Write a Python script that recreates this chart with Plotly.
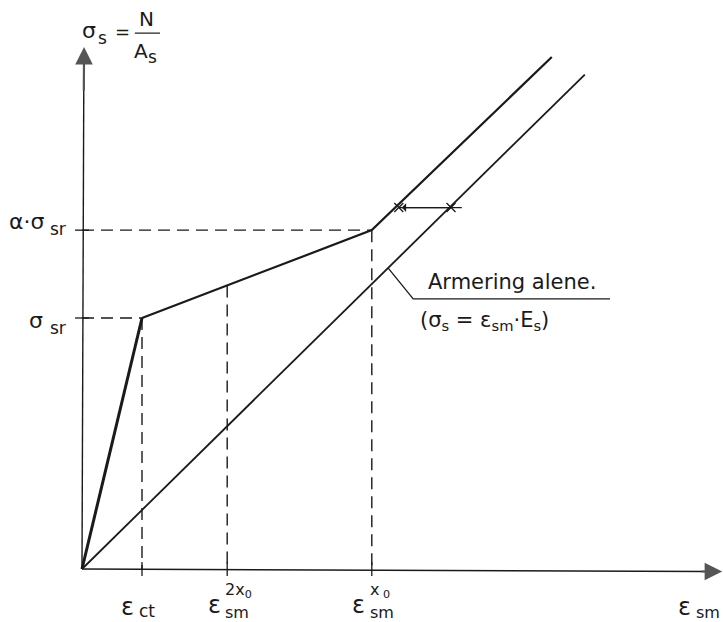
import plotly.graph_objects as go

# ---- data (strain in units of eps_ct, stress in units of sigma_sr) ----
eps_ct = 1.0
eps_2x0 = 2.42
eps_x0 = 4.83
sig_sr = 1.0
alpha_sig_sr = 1.35

# composite curve (tension stiffening) : origin -> eps_ct -> eps_x0 -> end
comp_x = [0.0, eps_ct, eps_x0, 7.83]
comp_y = [0.0, sig_sr, alpha_sig_sr, 2.04]
# bare reinforcement line
bare_x = [0.0, 8.38]
bare_y = [0.0, 1.97]
# crosses on the two lines
cross_x = [5.28, 6.15]
cross_y = [1.44, 1.44]
# leader line for the label
lead_x = [5.10, 5.52, 8.80]
lead_y = [1.20, 1.076, 1.076]

ink = "#1a1a1a"
FONT = "DejaVu Sans"

fig = go.Figure()

# steep first segment is drawn heavier
fig.add_trace(go.Scatter(x=comp_x[:2], y=comp_y[:2], mode="lines",
                         line=dict(color=ink, width=3)))
fig.add_trace(go.Scatter(x=comp_x[1:], y=comp_y[1:], mode="lines",
                         line=dict(color=ink, width=2.2)))
fig.add_trace(go.Scatter(x=bare_x, y=bare_y, mode="lines",
                         line=dict(color=ink, width=1.8)))

# dashed guide lines
dash = "12px,7px"
interp = comp_y[1] + (comp_y[2] - comp_y[1]) * (eps_2x0 - comp_x[1]) / (comp_x[2] - comp_x[1])
guides = [
    ([0, eps_ct], [sig_sr, sig_sr]),
    ([eps_ct, eps_ct], [sig_sr, 0]),
    ([0, eps_x0], [alpha_sig_sr, alpha_sig_sr]),
    ([eps_x0, eps_x0], [alpha_sig_sr, 0]),
    ([eps_2x0, eps_2x0], [interp, 0]),
]
for gx, gy in guides:
    fig.add_trace(go.Scatter(x=gx, y=gy, mode="lines",
                             line=dict(color=ink, width=1.4, dash=dash)))

# axes
fig.add_trace(go.Scatter(x=[0, 0.03], y=[0, 1.95], mode="lines",
                         line=dict(color=ink, width=1.4)))
fig.add_trace(go.Scatter(x=[0, 10.4], y=[0, -0.01], mode="lines",
                         line=dict(color=ink, width=1.4)))

# crosses and dimension line
fig.add_trace(go.Scatter(x=[cross_x[0], cross_x[1] + 0.18], y=cross_y, mode="lines",
                         line=dict(color=ink, width=1.3)))
fig.add_trace(go.Scatter(x=cross_x, y=cross_y, mode="markers",
                         marker=dict(symbol="x-thin", size=9,
                                     line=dict(color=ink, width=1.3))))
# leader
fig.add_trace(go.Scatter(x=lead_x, y=lead_y, mode="lines",
                         line=dict(color=ink, width=1.3)))

# tick marks on axes at guide positions
fig.add_trace(go.Scatter(x=[eps_ct, eps_2x0, eps_x0], y=[0, 0, 0], mode="markers",
                         marker=dict(symbol="line-ns", size=10,
                                     line=dict(color=ink, width=1.3))))
fig.add_trace(go.Scatter(x=[0, 0], y=[sig_sr, alpha_sig_sr], mode="markers",
                         marker=dict(symbol="line-ew", size=10,
                                     line=dict(color=ink, width=1.3))))

ann = []
# arrowheads of axes
ann.append(dict(x=0.035, y=2.08, ax=0.03, ay=1.9, xref="x", yref="y", axref="x", ayref="y",
                showarrow=True, arrowhead=2, arrowsize=1.6, arrowwidth=2.2,
                arrowcolor="#555", text=""))
ann.append(dict(x=10.67, y=-0.01, ax=10.3, ay=-0.01, xref="x", yref="y", axref="x", ayref="y",
                showarrow=True, arrowhead=2, arrowsize=1.6, arrowwidth=2.2,
                arrowcolor="#555", text=""))
# small arrow between crosses
ann.append(dict(x=cross_x[0] + 0.05, y=cross_y[0], ax=cross_x[1], ay=cross_y[1],
                xref="x", yref="y", axref="x", ayref="y",
                showarrow=True, arrowhead=1, arrowsize=1.2, arrowwidth=1.2,
                arrowcolor=ink, text=""))

def txt(x, y, t, size=22, xa="center", ya="middle"):
    ann.append(dict(x=x, y=y, xref="x", yref="y", text=t, showarrow=False,
                    xanchor=xa, yanchor=ya,
                    font=dict(family=FONT, size=size, color=ink)))

# y-axis title  sigma_s = N / A_s
txt(-0.03, 2.145, "σ", 22, xa="left")
txt(0.24, 2.115, "s", 17, xa="left")
txt(0.52, 2.14, "=", 18, xa="left")
txt(1.07, 2.19, "N", 20)
txt(0.98, 2.065, "A", 20)
txt(1.18, 2.04, "s", 17)
fig.add_shape(type="line", x0=0.88, x1=1.30, y0=2.135, y1=2.135, xref="x", yref="y",
              line=dict(color=ink, width=1.2))

# y labels
txt(-1.25, 1.385, "α·σ", 22, xa="left")
txt(-0.57, 1.355, "sr", 17, xa="left")
txt(-0.92, 0.99, "σ", 22, xa="left")
txt(-0.57, 0.962, "sr", 17, xa="left")

# x labels
txt(0.62, -0.15, "ε", 24, xa="left")
txt(0.92, -0.168, "ct", 17, xa="left")

txt(2.07, -0.143, "ε", 24, xa="left")
txt(2.35, -0.172, "sm", 16, xa="left")
txt(2.35, -0.085, "2x<sub>0</sub>", 16, xa="left")

txt(4.47, -0.143, "ε", 24, xa="left")
txt(4.77, -0.172, "sm", 16, xa="left")
txt(4.77, -0.085, "x<sub> 0</sub>", 16, xa="left")

txt(9.9, -0.15, "ε", 24, xa="left")
txt(10.2, -0.175, "sm", 16, xa="left")

# annotation text
txt(5.73, 1.145, "Armering alene.", 21, xa="left")
txt(5.6, 0.99, "(σ<sub>s</sub> = ε<sub>sm</sub>·E<sub>s</sub>)", 21, xa="left")

fig.update_layout(
    width=723, height=622,
    margin=dict(l=0, r=0, t=0, b=0),
    paper_bgcolor="white", plot_bgcolor="white",
    showlegend=False,
    annotations=ann,
    xaxis=dict(range=[-82 / 60, 641 / 60], visible=False, fixedrange=True),
    yaxis=dict(range=[-53 / 251, 569 / 251], visible=False, fixedrange=True),
)

fig.write_html("out.html")
